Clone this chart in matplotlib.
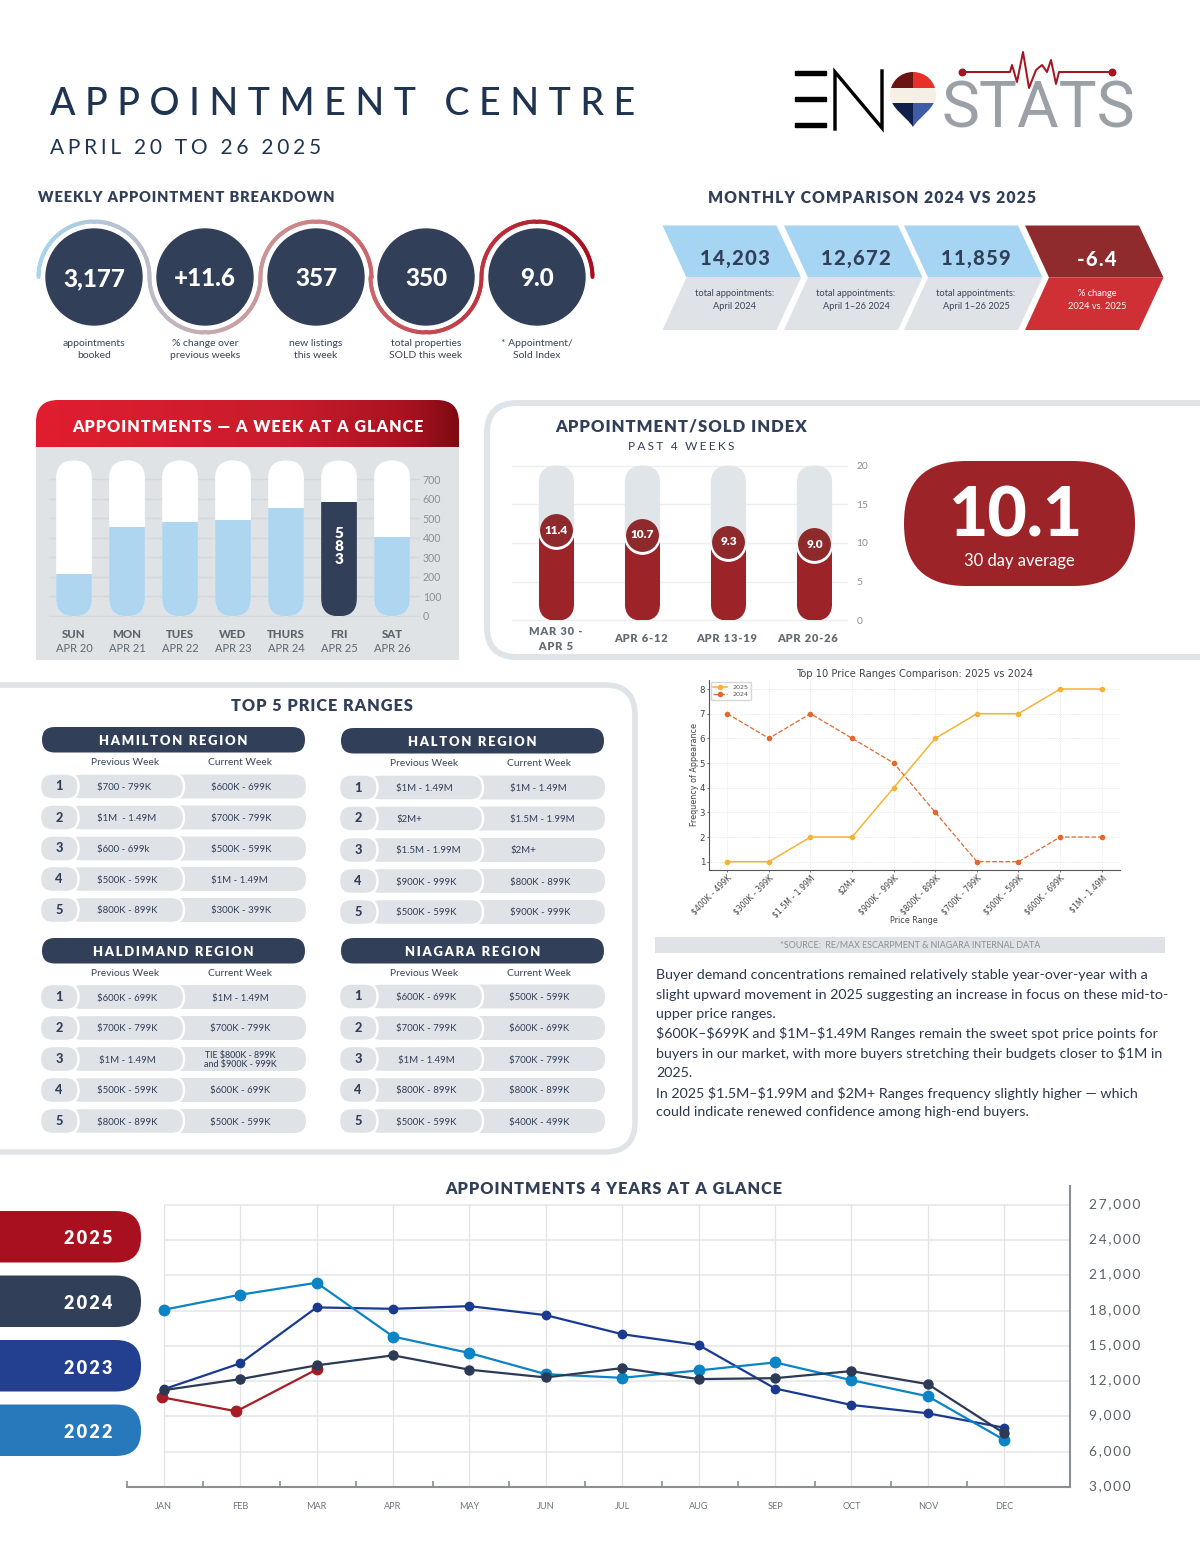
import numpy as np
import matplotlib
matplotlib.use('Agg')
import matplotlib.pyplot as plt
from matplotlib.patches import FancyBboxPatch, Polygon, Rectangle, PathPatch, Circle
from matplotlib.path import Path
from matplotlib.collections import LineCollection
from matplotlib.colors import LinearSegmentedColormap
from matplotlib.transforms import ScaledTranslation

plt.rcParams['font.family'] = ['Lato', 'DejaVu Sans']

W, H = 1200, 1553
NAVY = '#323f59'
GREY = '#dfe2e6'
PT = 0.72

# kpi row
kpi_values = ['3,177', '+11.6', '357', '350', '9.0']
kpi_labels = ['appointments\nbooked', '% change over\nprevious weeks', 'new listings\nthis week',
              'total properties\nSOLD this week', '* Appointment/\nSold Index']

# monthly comparison
month_values = ['14,203', '12,672', '11,859', '-6.4']
month_labels = ['total appointments:\nApril 2024', 'total appointments:\nApril 1–26 2024',
                'total appointments:\nApril 1–26 2025', '% change\n2024 vs. 2025']

# week at a glance
days = ['SUN', 'MON', 'TUES', 'WED', 'THURS', 'FRI', 'SAT']
day_dates = ['APR 20', 'APR 21', 'APR 22', 'APR 23', 'APR 24', 'APR 25', 'APR 26']
day_appts = [214, 452, 480, 492, 553, 583, 403]
day_ticks = [0, 100, 200, 300, 400, 500, 600, 700]

# appointment / sold index, bar heights as drawn differ a little from the printed labels
index_weeks = ['MAR 30 -\nAPR 5', 'APR 6-12', 'APR 13-19', 'APR 20-26']
index_labels = ['11.4', '10.7', '9.3', '9.0']
index_heights = [11.5, 10.9, 10.0, 9.7]
index_ticks = [0, 5, 10, 15, 20]

# top 5 tables
hamilton_prev = ['$700 - 799K', '$1M  - 1.49M', '$600 - 699k', '$500K - 599K', '$800K - 899K']
hamilton_curr = ['$600K - 699K', '$700K - 799K', '$500K - 599K', '$1M - 1.49M', '$300K - 399K']
halton_prev = ['$1M - 1.49M', '$2M+', '$1.5M - 1.99M', '$900K - 999K', '$500K - 599K']
halton_curr = ['$1M - 1.49M', '$1.5M - 1.99M', '$2M+', '$800K - 899K', '$900K - 999K']
haldimand_prev = ['$600K - 699K', '$700K - 799K', '$1M - 1.49M', '$500K - 599K', '$800K - 899K']
haldimand_curr = ['$1M - 1.49M', '$700K - 799K', 'TIE $800K - 899K\nand $900K - 999K', '$600K - 699K', '$500K - 599K']
niagara_prev = ['$600K - 699K', '$700K - 799K', '$1M - 1.49M', '$800K - 899K', '$500K - 599K']
niagara_curr = ['$500K - 599K', '$600K - 699K', '$700K - 799K', '$800K - 899K', '$400K - 499K']

# price range comparison
price_ranges = ['$400K - 499K', '$300K - 399K', '$1.5M - 1.99M', '$2M+', '$900K - 999K',
                '$800K - 899K', '$700K - 799K', '$500K - 599K', '$600K - 699K', '$1M - 1.49M']
freq_2025 = [1, 1, 2, 2, 4, 6, 7, 7, 8, 8]
freq_2024 = [7, 6, 7, 6, 5, 3, 1, 1, 2, 2]

body_lines = [
    'Buyer demand concentrations remained relatively stable year-over-year with a',
    'slight upward movement in 2025 suggesting an increase in focus on these mid-to-',
    'upper price ranges.',
    '$600K–$699K and $1M–$1.49M Ranges remain the sweet spot price points for',
    'buyers in our market, with more buyers stretching their budgets closer to $1M in',
    '2025.',
    'In 2025 $1.5M–$1.99M and $2M+ Ranges frequency slightly higher — which',
    'could indicate renewed confidence among high-end buyers.',
]

# four years
months = ['JAN', 'FEB', 'MAR', 'APR', 'MAY', 'JUN', 'JUL', 'AUG', 'SEP', 'OCT', 'NOV', 'DEC']
appts_2022 = [18080, 19360, 20380, 15800, 14400, 12600, 12290, 12920, 13600, 12090, 10720, 7000]
appts_2023 = [11320, 13520, 18280, 18160, 18390, 17620, 16000, 15080, 11380, 9980, 9270, 8040]
appts_2024 = [11240, 12180, 13350, 14200, 12980, 12320, 13120, 12180, 12260, 12860, 11750, 7560]
appts_2025 = [10640, 9440, 13000]
year_ticks = [3000, 6000, 9000, 12000, 15000, 18000, 21000, 24000, 27000]
legend_years = ['2025', '2024', '2023', '2022']


def spaced(s, n=1):
    return ('\u200a' * n).join(s)


def sub_axes(x0, y0, x1, y1):
    a = fig.add_axes([x0 / W, 1 - y1 / H, (x1 - x0) / W, (y1 - y0) / H])
    a.patch.set_visible(False)
    return a


def rbox(a, x0, y0, x1, y1, r, aspect=1, **kw):
    p = FancyBboxPatch((x0, y0), x1 - x0, y1 - y0, boxstyle=f'round,pad=0,rounding_size={r}',
                       mutation_aspect=aspect, **kw)
    a.add_patch(p)
    return p


def txt(x, y, s, size, color=NAVY, weight='normal', ha='center', **kw):
    return ax.text(x, y, s, fontsize=size, color=color, fontweight=weight, ha=ha, va='center', parse_math=False, **kw)


fig = plt.figure(figsize=(W / 100, H / 100), dpi=100)
ax = fig.add_axes([0, 0, 1, 1])
ax.set_xlim(0, W)
ax.set_ylim(H, 0)
ax.axis('off')

# title
txt(50, 104.5, 'A P P O I N T M E N T   C E N T R E', 27, '#1f3450', 500, ha='left')
txt(50, 148, spaced('APRIL 20 TO 26 2025', 3), 15, '#1f3450', ha='left')

# logo
for y in [72.5, 99, 125]:
    ax.add_patch(Rectangle((795, y - 2), 31, 4, color='black'))
ax.plot([835, 835, 882, 882], [129, 72, 128, 71], color='black', lw=3.4 * PT, solid_joinstyle='miter')
pin_path = Path([(913, 127), (907, 117), (890, 108), (890, 95), (890, 82), (900, 72), (913, 72),
                 (926, 72), (936, 82), (936, 95), (936, 108), (919, 117), (913, 127)],
                [Path.MOVETO] + [Path.CURVE4] * 12)
pin = PathPatch(pin_path, fc='none', ec='none')
ax.add_patch(pin)
for x, y, w, h, c in [(889, 70, 24, 18, '#6b1414'), (913, 70, 24, 18, '#e8302a'),
                      (889, 88, 48, 15, '#f5efe5'), (889, 103, 24, 25, '#10204a'),
                      (913, 103, 24, 25, '#3f5ca8')]:
    ax.add_patch(Rectangle((x, y), w, h, color=c, lw=0)).set_clip_path(pin)
ax.text(942, 128, 'STATS', fontsize=46, color='#9aa0a6', fontweight=400, ha='left', va='baseline',
        family=['Roboto', 'DejaVu Sans'])
pulse_x = [962, 1010, 1012, 1017, 1023, 1029, 1036, 1042, 1047, 1051, 1056, 1059, 1112]
pulse_y = [72, 72, 65, 82, 52, 88, 70, 65, 72, 60, 84, 72, 72]
ax.plot(pulse_x, pulse_y, color='#a5141f', lw=2 * PT, zorder=5)
ax.scatter([962, 1112], [72, 72], s=22, color='#a5141f', zorder=5)

# kpi row
txt(38, 198, spaced('WEEKLY APPOINTMENT BREAKDOWN'), 10.5, NAVY, 800, ha='left')
kpi_x = [94, 205, 316, 426, 537]
px, py = [], []
for i, c in enumerate(kpi_x):
    t = np.linspace(np.pi, 0, 80)
    px.append(c + 55.5 * np.cos(t))
    py.append(277 + (-1 if i % 2 == 0 else 1) * 55.5 * np.sin(t))
px, py = np.concatenate(px), np.concatenate(py)
pts = np.column_stack([px, py])
segs = np.stack([pts[:-1], pts[1:]], axis=1)
snake_cmap = LinearSegmentedColormap.from_list('snake', [(0, '#a8d4ee'), (0.2, '#bcbcc8'), (0.33, '#c9a6aa'),
                                                         (0.5, '#cc8084'), (0.72, '#c8444c'), (1, '#a81020')])
lc = LineCollection(segs, cmap=snake_cmap, linewidths=4 * PT, capstyle='round')
lc.set_array((px[:-1] - px.min()) / (px.max() - px.min()))
ax.add_collection(lc)
for c, v, lab in zip(kpi_x, kpi_values, kpi_labels):
    ax.add_patch(Circle((c, 277), 48, color=NAVY))
    txt(c, 278.5, v, 17.5, 'white', 900)
    txt(c, 349.5, lab, 7.5, '#3a4558', linespacing=1.45)

# monthly comparison
txt(872, 198, spaced('MONTHLY COMPARISON 2024 VS 2025'), 11.3, NAVY, 800)
arrow_lefts = [662.5, 784, 904, 1025]
arrow_colors = [('#a5d5f3', GREY), ('#a5d5f3', GREY), ('#a5d5f3', GREY), ('#8f2b2d', '#cf3035')]
for i, l in enumerate(arrow_lefts):
    r, tip, notch = l + 114, l + 138.5, l + 24
    ctop, cbot = arrow_colors[i]
    ax.add_patch(Polygon([(l, 225.5), (r, 225.5), (tip, 277.5), (notch, 277.5)], color=ctop, lw=0))
    ax.add_patch(Polygon([(notch, 277.5), (tip, 277.5), (r, 330), (l, 330)], color=cbot, lw=0))
    tc = 'white' if i == 3 else NAVY
    txt(l + 72, 259, spaced(month_values[i]), 14.6, tc, 900)
    txt(l + 72, 300, month_labels[i], 6.7, 'white' if i == 3 else '#3a4558', linespacing=1.6)

# week at a glance panel
ax.add_patch(Rectangle((36, 447), 423, 213, color='#dfe3e6', lw=0))
head_clip = rbox(ax, 36, 400, 459, 490, 22, fc='none', ec='none')
head_cmap = LinearSegmentedColormap.from_list('head', [(0, '#e01e30'), (0.6, '#c81c2c'), (0.88, '#a81220'), (1, '#7f0a12')])
im = ax.imshow(np.linspace(0, 1, 256).reshape(1, -1), cmap=head_cmap, extent=(36, 459, 447, 400), aspect='auto')
im.set_clip_path(head_clip)
ax.set_xlim(0, W)
ax.set_ylim(H, 0)
txt(248, 427.5, spaced('APPOINTMENTS — A WEEK AT A GLANCE'), 11.6, 'white', 800)

ax_w = sub_axes(49, 459.5, 420, 616.7)
ax_w.set_xlim(-0.472, 6.528)
ax_w.set_ylim(-5, 800)
wk_aspect = (1 / 0.1953) * 53
ax_w.set_yticks(day_ticks)
ax_w.set_xticks([])
ax_w.yaxis.tick_right()
ax_w.tick_params(axis='y', length=0, pad=2, labelsize=7.6, labelcolor='#8a8f96')
ax_w.grid(axis='y', color='#d3d8dc', lw=1)
ax_w.set_axisbelow(True)
for s in ax_w.spines.values():
    s.set_visible(False)
for i, v in enumerate(day_appts):
    shell = rbox(ax_w, i - 0.337, -3, i + 0.337, 795, 0.336, aspect=wk_aspect, fc='white', ec='none')
    bar = ax_w.bar(i, v, width=0.674, color=NAVY if days[i] == 'FRI' else '#aed6f1', zorder=3)[0]
    bar.set_clip_path(shell)
    txt(74 + 53 * i, 634, days[i], 8.2, '#5f656c', 900)
    txt(74 + 53 * i, 648, day_dates[i], 8, '#5f6770')
ax_w.text(5, day_appts[5] * 0.61, '5\n8\n3', color='white', fontsize=11, fontweight=800, ha='center', va='center',
          linespacing=1.0, zorder=4)

# index panel
rbox(ax, 487, 403, 1320, 657, 30, fc='white', ec='#dfe4e8', lw=6 * PT)
txt(681, 426.5, spaced('APPOINTMENT/SOLD INDEX'), 12, NAVY, 800)
txt(681, 446, spaced('PAST 4 WEEKS', 3), 8.6, NAVY)

ax_i = sub_axes(512, 464, 848, 622)
ax_i.set_xlim(-0.517, 3.39)
ax_i.set_ylim(-0.22, 20.2)
ax_i.set_yticks(index_ticks)
ax_i.set_xticks([])
ax_i.yaxis.tick_right()
ax_i.tick_params(axis='y', length=0, pad=6, labelsize=7.4, labelcolor='#8a8f96')
ax_i.grid(axis='y', color='#eceeef', lw=1)
ax_i.set_axisbelow(True)
for s in ax_i.spines.values():
    s.set_visible(False)
idx_aspect = (1 / 7.73) * 86
for i, v in enumerate(index_heights):
    shell = rbox(ax_i, i - 0.205, -0.05, i + 0.205, 20, 0.204, aspect=idx_aspect, fc='#dfe5e8', ec='none')
    bar = ax_i.bar(i, v, width=0.41, color='#9c2428', zorder=3)[0]
    bar.set_clip_path(shell)
    ring = ax_i.scatter(i, v, s=700, color='white', zorder=4, lw=0)
    ring.set_clip_path(bar)
    ax_i.scatter(i, v + 0.12, s=560, color='#8e2a2c', zorder=5, lw=0)
    ax_i.text(i, v + 0.15, index_labels[i], color='white', fontsize=8.6, fontweight=800, ha='center', va='center', zorder=6)
for x, lab in zip([556, 641, 727, 808], index_weeks):
    txt(x, 639, spaced(lab), 8, '#666c74', 800, linespacing=1.35)

rbox(ax, 904, 461, 1135, 586, 62, fc='#9c2428', ec='none')
txt(1016, 517, '10.1', 49, 'white', 900)
txt(1019, 561, '30 day average', 11.9, 'white')

# top 5 panel
rbox(ax, -60, 685, 635, 1152, 30, fc='white', ec='#dfe4e8', lw=5.5 * PT)
txt(322, 706, spaced('TOP 5 PRICE RANGES'), 11.7, NAVY, 800)


def region(name, prev, curr, dx, head_y, rows_y, centred):
    rbox(ax, 42 + dx, head_y, 305 + dx, head_y + 25.5, 12.7, fc=NAVY, ec='none')
    txt(173.5 + dx, head_y + 14, spaced(name, 2), 9.4, 'white', 800)
    txt(125.5 + dx, head_y + 35.5, 'Previous Week', 7.4, '#3a4558')
    txt(240 + dx, head_y + 35.5, 'Current Week', 7.4, '#3a4558')
    for i, y in enumerate(rows_y):
        rbox(ax, 165 + dx, y - 12, 306 + dx, y + 12, 11.9, fc=GREY, ec='none')
        rbox(ax, 68 + dx, y - 13, 184 + dx, y + 13, 12.9, fc=GREY, ec='white', lw=2.4 * PT)
        rbox(ax, 40 + dx, y - 13, 78.5 + dx, y + 13, 12.9, fc=GREY, ec='white', lw=2.4 * PT)
        txt(59 + dx, y, str(i + 1), 9.2, NAVY, 900)
        tie = '\n' in curr[i]
        if centred:
            txt(127 + dx, y + 1, prev[i], 6.9, NAVY)
            txt(240 + dx, y + 1, curr[i], 6.4 if tie else 6.9, NAVY, 500 if tie else 400, linespacing=1.05)
        else:
            txt(97 + dx, y + 1, prev[i], 6.9, NAVY, ha='left')
            txt(211 + dx, y + 1, curr[i], 6.9, NAVY, ha='left')


region('HAMILTON REGION', hamilton_prev, hamilton_curr, 0, 727, [786.5, 817.5, 848.5, 879, 910], False)
region('HALTON REGION', halton_prev, halton_curr, 299, 728, [787.5, 818.5, 850, 881, 912], False)
region('HALDIMAND REGION', haldimand_prev, haldimand_curr, 0, 938, [997, 1028, 1059, 1090, 1121], True)
region('NIAGARA REGION', niagara_prev, niagara_curr, 299, 938, [996.5, 1028, 1059, 1090, 1121], True)

# price range chart
ax_p = sub_axes(708.7, 680, 1120, 870)
ax_p.set_xlim(-0.447, 9.44)
ax_p.set_ylim(0.664, 8.365)
ax_p.plot(range(10), freq_2025, 'o-', color='#f5b335', lw=1.1, ms=3, label='2025')
ax_p.plot(range(10), freq_2024, 'o--', color='#e2682b', lw=0.9, ms=3, label='2024')
ax_p.set_xticks(range(10))
ax_p.set_xticklabels(price_ranges, rotation=45, ha='right', rotation_mode='anchor')
ax_p.set_yticks(range(1, 9))
ax_p.tick_params(labelsize=5.6, length=1.5, width=0.5, colors='#444444', pad=1)
ax_p.tick_params(axis='y', labelsize=6.2)
ax_p.grid(True, ls=':', lw=0.5, color='#d8d8d8')
ax_p.set_axisbelow(True)
ax_p.spines['top'].set_visible(False)
ax_p.spines['right'].set_visible(False)
ax_p.spines['left'].set_color('#555555')
ax_p.spines['bottom'].set_color('#555555')
ax_p.set_xlabel('Price Range', fontsize=5.8, color='#444444', family='DejaVu Sans', labelpad=-2)
ax_p.set_ylabel('Frequency of Appearance', fontsize=5.8, color='#444444', family='DejaVu Sans', labelpad=0.5)
ax_p.set_title('Top 10 Price Ranges Comparison: 2025 vs 2024', fontsize=7.2, color='#444444', family='DejaVu Sans', pad=2.5)
for lb in ax_p.get_xticklabels() + ax_p.get_yticklabels():
    lb.set_family('DejaVu Sans')
leg = ax_p.legend(loc='upper left', frameon=True, borderaxespad=0.3, handlelength=2.2, labelspacing=0.3,
                  labelcolor='#555555', prop={'family': 'DejaVu Sans', 'size': 4.6})

# source + commentary
ax.add_patch(Rectangle((655, 937), 510, 16, color=GREY, lw=0))
txt(910, 945, '*SOURCE:  RE/MAX ESCARPMENT & NIAGARA INTERNAL DATA', 6.4, '#8b9096')
body_y = [975, 995, 1014, 1034, 1053, 1073, 1093, 1112]
for y, line in zip(body_y, body_lines):
    txt(656, y, line, 10.25, '#2c3850', ha='left')

# four years chart
txt(614, 1189, spaced('APPOINTMENTS 4 YEARS AT A GLANCE'), 11.7, NAVY, 800)
legend_colors = ['#a8101f', NAVY, '#234090', '#2878bc']
for y, lab, c in zip([1211, 1275.5, 1340, 1404.5], legend_years, legend_colors):
    rbox(ax, -60, y, 141, y + 51.5, 25, fc=c, ec='none')
    txt(88, y + 28, spaced(lab, 2), 13, 'white', 800)

ax_y = sub_axes(127, 1186, 1070, 1487)
ax_y.set_xlim(-0.482, 11.86)
ax_y.set_ylim(3000, 28610)
ax_y.set_yticks(year_ticks)
ax_y.set_yticklabels([spaced(f'{v:,}', 2) for v in year_ticks])
ax_y.yaxis.tick_right()
ax_y.set_xticks(range(12))
ax_y.set_xticklabels(months)
ax_y.set_xticks(np.arange(-0.482, 11.5, 1), minor=True)
ax_y.tick_params(axis='x', which='major', length=0, pad=11, labelsize=6.6, labelcolor='#6f757c')
ax_y.tick_params(axis='x', which='minor', direction='in', length=4, width=1.2, color='#8a8f94')
ax_y.tick_params(axis='y', length=0, pad=14, labelsize=9.8, labelcolor='#5b6068')
up = ScaledTranslation(0, 2 / 100, fig.dpi_scale_trans)
for lb in ax_y.get_yticklabels():
    lb.set_transform(lb.get_transform() + up)
ax_y.hlines(year_ticks[1:], 0, 11.86, color='#e6e7ea', lw=1.2, zorder=0)
ax_y.vlines(range(12), 3000, 27000, color='#e2e3e6', lw=0.9, zorder=0)
for s in ['top', 'left']:
    ax_y.spines[s].set_visible(False)
for s in ['bottom', 'right']:
    ax_y.spines[s].set_color('#8a8f94')
    ax_y.spines[s].set_linewidth(1.5)
ax_y.plot(range(12), appts_2023, '-o', color='#1a3a90', lw=1.6, ms=6, zorder=3)
ax_y.plot(range(12), appts_2022, '-o', color='#0a84c4', lw=1.6, ms=7.5, zorder=4)
ax_y.plot(range(12), appts_2024, '-o', color='#2c3a55', lw=1.6, ms=6.5, zorder=5)
ax_y.plot([-0.03, 0.95, 2], appts_2025, '-o', color='#a81c24', lw=1.6, ms=7.5, zorder=4)

fig.savefig('out.png', dpi=100)
